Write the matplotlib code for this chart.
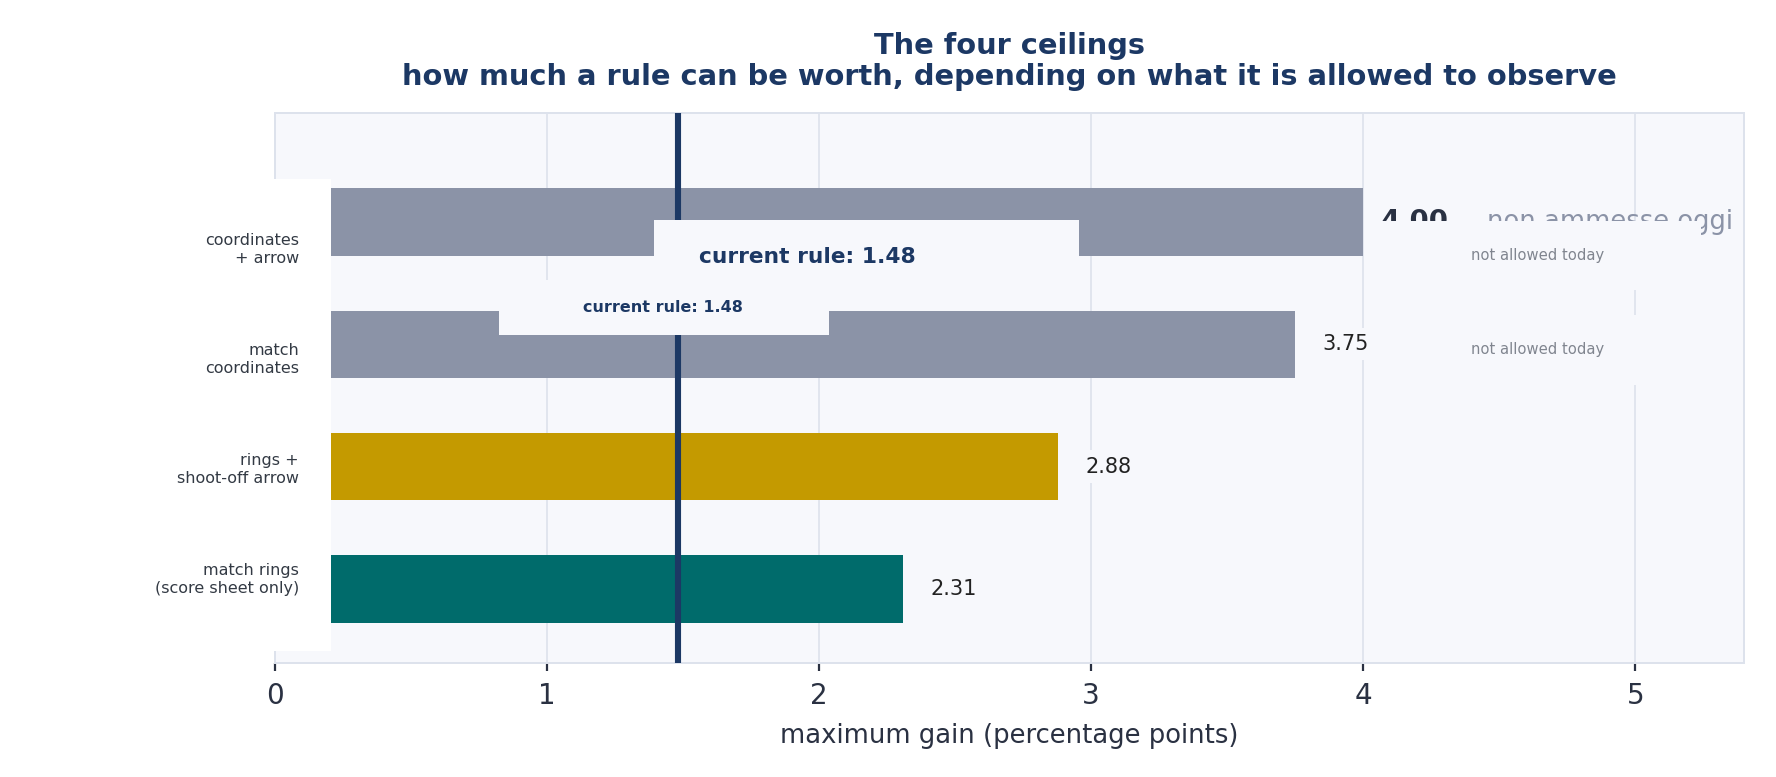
import matplotlib.pyplot as plt
from matplotlib.patches import Rectangle
import numpy as np

# ceilings, bottom to top
labels = ["match rings\n(score sheet only)", "rings +\nshoot-off arrow",
          "match\ncoordinates", "coordinates\n+ arrow"]
gains = [2.31, 2.88, 3.75, 4.00]
colors = ["#006b6b", "#c49a00", "#8b93a7", "#8b93a7"]
current_rule = 1.48

BG = "#f7f8fc"
NAVY = "#1c3864"
DARK = "#2a3142"
GREY_TXT = "#80858f"

fig = plt.figure(figsize=(8.88, 3.885), dpi=200)
ax = fig.add_axes([0.1548, 0.1467, 0.8272, 0.7079])
ax.set_facecolor(BG)
ax.set_axisbelow(True)

y = np.arange(len(gains))
ax.barh(y, gains, height=0.55, color=colors, zorder=2)
ax.axvline(current_rule, color=NAVY, lw=2.2, zorder=3)

ax.set_xlim(0, 5.4)
ax.set_ylim(-0.605, 3.89)
ax.set_xticks(range(6))
ax.set_yticks([])
ax.grid(axis="x", color="#e1e5ee", lw=0.7)
for s in ax.spines.values():
    s.set_color("#dde2ec")
    s.set_linewidth(0.7)
ax.tick_params(axis="x", colors=DARK, labelsize=10, length=3, width=0.8, pad=4)
ax.set_xlabel("maximum gain (percentage points)", fontsize=9.3, color=DARK, labelpad=4.5)
ax.set_title("The four ceilings\nhow much a rule can be worth, depending on what it is allowed to observe",
             fontsize=10.4, fontweight="bold", color=NAVY, linespacing=1.15, pad=10)

# white panel behind the row labels
ax.add_patch(Rectangle((-1.5, -0.507), 1.705, 3.861, facecolor="white",
                       edgecolor="none", zorder=5, clip_on=False))
for i, lab in enumerate(labels):
    ax.text(0.088, 0.075 + 0.9 * i, lab, ha="right", va="center", fontsize=5.75,
            color="#333a44", zorder=6, linespacing=1.25)

# value labels
for i, g in enumerate(gains[:3]):
    ax.text(g + 0.1, i, f"{g:.2f}", ha="left", va="center", fontsize=7.5, color="#222222",
            zorder=4, bbox=dict(boxstyle="square,pad=0.3", fc=BG, ec="none"))
top = len(gains) - 1
ax.text(gains[top] + 0.065, top, f"{gains[top]:.2f}", ha="left", va="center", fontsize=9.9,
        fontweight="bold", color=DARK, zorder=4)
ax.text(gains[top] + 0.455, top, "non ammesse oggi", ha="left", va="center", fontsize=9.3,
        color="#8b93a7", zorder=4)

# "not allowed today" boxes on the two coordinate rows
for yc in [2.725, 1.955]:
    ax.add_patch(Rectangle((4.04, yc - 0.285), 1.2, 0.57, facecolor=BG, edgecolor="none", zorder=5))
    ax.text(4.643, yc, "not allowed today", ha="center", va="center", fontsize=5.3,
            color=GREY_TXT, zorder=6)

# current rule labels
ax.add_patch(Rectangle((1.393, 2.275), 1.562, 0.740, facecolor=BG, edgecolor="none", zorder=5))
ax.add_patch(Rectangle((0.825, 2.074), 1.213, 0.453, facecolor=BG, edgecolor="none", zorder=5))
ax.text(1.958, 2.715, f"current rule: {current_rule:.2f}", ha="center", va="center",
        fontsize=7.85, fontweight="bold", color=NAVY, zorder=6)
ax.text(1.428, 2.298, f"current rule: {current_rule:.2f}", ha="center", va="center",
        fontsize=5.75, fontweight="bold", color=NAVY, zorder=6)

fig.savefig("out.png", dpi=200, facecolor="white")
